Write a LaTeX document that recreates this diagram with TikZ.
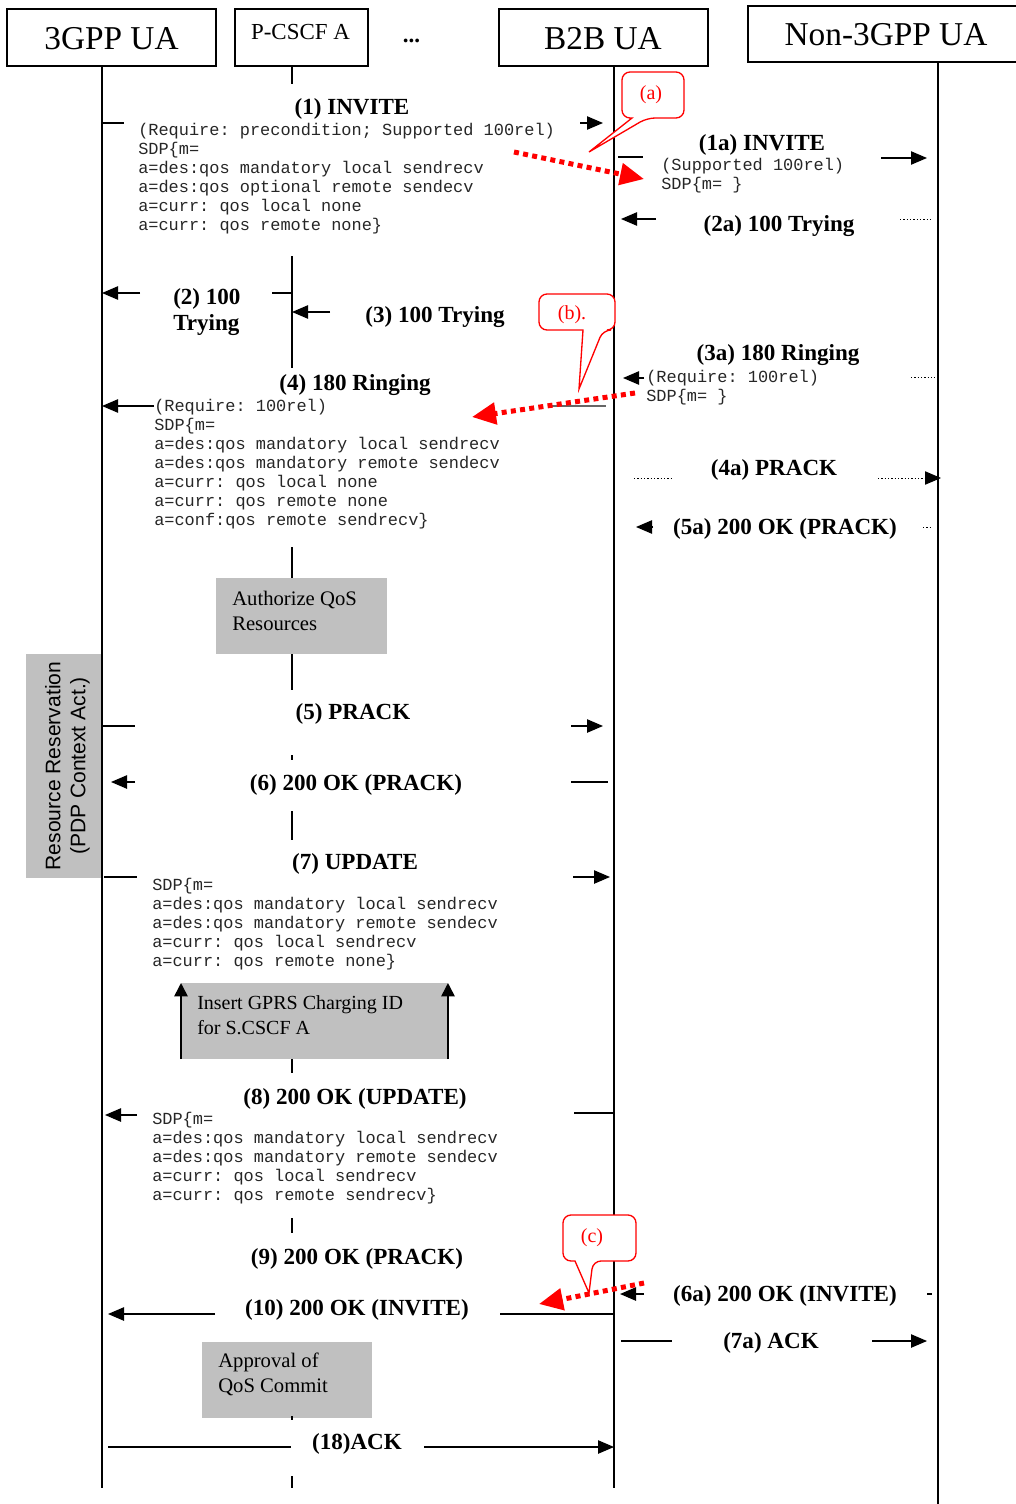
\documentclass[tikz,border=0pt]{standalone}
\usepackage{fontspec}
\setmainfont{Liberation Serif}
\setmonofont{Liberation Mono}
\newfontfamily\arialf{Liberation Sans}
\usetikzlibrary{arrows.meta}
\definecolor{boxgray}{RGB}{192,192,192}
\begin{document}
\begin{tikzpicture}[x=0.75pt,y=-0.75pt,
  life/.style={line width=1.5pt},
  thinlife/.style={line width=1.1pt},
  msg/.style={line width=1pt},
  tip/.style={-{Triangle[length=12pt,width=10pt]}},
  smalltip/.style={-{Triangle[length=10pt,width=10pt]}},
  dmsg/.style={line width=0.7pt, dash pattern=on 1pt off 1.5pt},
  redarr/.style={red, line width=3.75pt, dash pattern=on 3.75pt off 3.2pt, -{Triangle[length=18pt,width=16pt]}},
  callout/.style={red, line width=1pt, fill=white},
  hdr/.style={draw, line width=1.5pt, inner sep=0},
  hdrtxt/.style={font=\fontsize{25}{30}\selectfont, inner sep=0},
  lbl/.style={font=\fontsize{17.3}{19.5}\bfseries\selectfont, inner sep=0, yshift=-1.8pt},
  mono/.style={font=\fontsize{12.7}{14.25}\ttfamily\selectfont, inner sep=0, anchor=north west, align=left, text=black!85},
  boxtxt/.style={font=\fontsize{15.5}{18.75}\selectfont, inner sep=0, anchor=west, align=left},
  ctxt/.style={red, font=\fontsize{15}{18}\selectfont, inner sep=0},
  gbox/.style={fill=boxgray}
]
\useasboundingbox (0,0) rectangle (1016,1504);

% ---------- headers ----------
\node[hdr, minimum width=156.75pt, minimum height=42.75pt] (h1) at (111.5,37.5) {};
\node[hdrtxt] (h1t) at (111.5,39) {3GPP UA};
\node[hdr, minimum width=99.75pt, minimum height=42.75pt] (h2) at (301.5,37.5) {};
\node[font=\fontsize{17.2}{20}\selectfont, inner sep=0] (h2t) at (300.5,32) {P-CSCF A};
\node[font=\fontsize{17.3}{20}\bfseries\selectfont, inner sep=0, anchor=base] (dots) at (411.5,42) {...};
\node[hdr, minimum width=156.75pt, minimum height=42.75pt] (h3) at (603.5,37.5) {};
\node[hdrtxt] (h3t) at (603,39) {B2B UA};
\draw[line width=1.5pt] (748,6) rectangle (1030,62);
\node[hdrtxt] (h4t) at (886,35) {Non-3GPP UA};

% ---------- gray boxes ----------
\fill[gbox] (216,578) rectangle (387,654);
\fill[gbox] (26,654) rectangle (102,878);
\fill[gbox] (181,983) rectangle (448,1059);
\fill[gbox] (202,1342) rectangle (372,1418);

% ---------- lifelines ----------
\draw[life] (102,66) -- (102,1488);
\draw[life] (614,66) -- (614,1488);
\draw[life] (938,62) -- (938,1504);
\foreach \a/\b in {66/84, 256/368, 547/578, 654/690, 755/760, 811/840, 1059/1073, 1218/1233, 1416/1420, 1476/1488}
  \draw[thinlife] (292,\a) -- (292,\b);

% ---------- box texts ----------
\node[boxtxt] (auth) at (232,610.5) {Authorize QoS\\Resources};
\node[font=\arialf\fontsize{15.8}{18.75}\selectfont, rotate=90, align=center, inner sep=0] (rr) at (67.5,766) {Resource Reservation\\(PDP Context Act.)};
\draw[line width=1.2pt, smalltip] (181,1059) -- (181,983);
\draw[line width=1.2pt, smalltip] (448,1059) -- (448,983);
\node[boxtxt, font=\fontsize{15}{18.75}\selectfont] (gprs) at (197,1015) {Insert GPRS Charging ID\\for S.CSCF A};
\node[boxtxt] (appr) at (218,1374) {Approval of\\QoS Commit};

% ---------- messages ----------
% (1)
\draw[msg] (102,123) -- (124,123);
\draw[msg,tip] (580,123) -- (603,123);
\node[lbl] (t1) at (352,107) {(1) INVITE};
\node[mono] (m1) at (138,122.5) {\rule{0pt}{9.5pt}(Require: precondition; Supported 100rel)\\SDP\{m=\\a=des:qos mandatory local sendrecv\\a=des:qos optional remote sendecv\\a=curr: qos local none\\a=curr: qos remote none\}};
% (1a)
\draw[msg] (618,157) -- (643,157);
\draw[msg,tip] (881,158) -- (927,158);
\node[lbl] (t1a) at (762,143) {(1a) INVITE};
\node[mono] (m1a) at (661,158) {\rule{0pt}{9.5pt}(Supported 100rel)\\SDP\{m= \}};
% (2a)
\draw[msg,tip] (656,219) -- (621,219);
\draw[dmsg] (900,219) -- (932,219);
\node[lbl] (t2a) at (779,224) {(2a) 100 Trying};
% (2)
\draw[msg,tip] (140,293) -- (102,293);
\draw[msg] (272,293) -- (292,293);
\node[lbl, anchor=west, align=left] (t2) at (173,310) {(2) 100\\Trying};
% (3)
\draw[msg,tip] (330,312) -- (292,312);
\node[lbl] (t3) at (435,315) {(3) 100 Trying};
% (3a)
\draw[msg,tip] (644,378) -- (623,378);
\draw[dmsg] (911,377) -- (935,377);
\node[lbl] (t3a) at (778,353) {(3a) 180 Ringing};
\node[mono] (m3a) at (646,370) {\rule{0pt}{9.5pt}(Require: 100rel)\\SDP\{m= \}};
% (4)
\draw[msg,tip] (154,406) -- (102,406);
\draw[msg, black!60] (552,406) -- (606,406);
\node[lbl] (t4) at (355,383) {(4) 180 Ringing};
\node[mono] (m4) at (154,399) {\rule{0pt}{9.5pt}(Require: 100rel)\\SDP\{m=\\a=des:qos mandatory local sendrecv\\a=des:qos mandatory remote sendecv\\a=curr: qos local none\\a=curr: qos remote none\\a=conf:qos remote sendrecv\}};
% (4a)
\draw[dmsg] (634,478) -- (671,478);
\draw[dmsg, tip] (878,478) -- (941,478);
\node[lbl] (t4a) at (774,468) {(4a) PRACK};
% (5a)
\draw[msg,tip] (653,527) -- (636,527);
\draw[dmsg] (923,527) -- (933,527);
\node[lbl] (t5a) at (785,527) {(5a) 200 OK (PRACK)};
% (5)
\draw[msg] (102,726) -- (135,726);
\draw[msg,tip] (571,726) -- (603,726);
\node[lbl] (t5) at (353,712) {(5) PRACK};
% (6)
\draw[msg,tip] (135,782) -- (111,782);
\draw[msg] (571,782) -- (608,782);
\node[lbl] (t6) at (356,783) {(6) 200 OK (PRACK)};
% (7)
\draw[msg] (104,877) -- (137,877);
\draw[msg,tip] (573,877) -- (610,877);
\node[lbl] (t7) at (355,862) {(7) UPDATE};
\node[mono] (m7) at (152,878) {\rule{0pt}{9.5pt}SDP\{m=\\a=des:qos mandatory local sendrecv\\a=des:qos mandatory remote sendecv\\a=curr: qos local sendrecv\\a=curr: qos remote none\}};
% (8)
\draw[msg,tip] (137,1115) -- (105,1115);
\draw[msg] (574,1113) -- (614,1113);
\node[lbl] (t8) at (355,1097) {(8) 200 OK (UPDATE)};
\node[mono] (m8) at (152,1112) {\rule{0pt}{9.5pt}SDP\{m=\\a=des:qos mandatory local sendrecv\\a=des:qos mandatory remote sendecv\\a=curr: qos local sendrecv\\a=curr: qos remote sendrecv\}};
% (9)
\node[lbl] (t9) at (357,1257) {(9) 200 OK (PRACK)};
% (6a)
\draw[msg,tip] (644,1294) -- (620,1294);
\draw[msg] (927,1294) -- (932,1294);
\node[lbl] (t6a) at (785,1294) {(6a) 200 OK (INVITE)};
% (10)
\draw[msg,tip] (215,1314) -- (108,1314);
\draw[msg] (500,1314) -- (614,1314);
\node[lbl] (t10) at (357,1308) {(10) 200 OK (INVITE)};
% (7a)
\draw[msg] (621,1341) -- (672,1341);
\draw[msg,tip] (872,1341) -- (927,1341);
\node[lbl] (t7a) at (771,1341) {(7a) ACK};
% (18)
\draw[msg] (108,1447) -- (291,1447);
\draw[msg,tip] (424,1447) -- (614,1447);
\node[lbl] (t18) at (357,1442) {(18)ACK};

% ---------- callouts ----------
\draw[callout] (653,72) [rounded corners=6pt] -- (684,72) -- (684,118) -- (647,118) [sharp corners] -- (589,152) -- (632,118) [rounded corners=6pt] -- (622,118) -- (622,72) -- cycle;
\node[ctxt] (ca) at (651,95) {(a)};
\draw[callout] (577,294) [rounded corners=6pt] -- (615,294) -- (615,330) -- (603,330) [sharp corners] -- (579,389) -- (583,330) [rounded corners=6pt] -- (539,330) -- (539,294) -- cycle;
\node[ctxt] (cb) at (572,315) {(b).};
\draw[callout] (600,1215) [rounded corners=6pt] -- (636,1215) -- (636,1261) -- (593,1261) [sharp corners] -- (589,1293) -- (575,1261) [rounded corners=6pt] -- (563,1261) -- (563,1215) -- cycle;
\node[ctxt] (cc) at (592,1238) {(c)};

% ---------- red dotted arrows ----------
\draw[redarr] (514,152) -- (644,179);
\draw[redarr] (635,393) -- (472,417);
\draw[redarr] (644,1283) -- (539,1304);
\end{tikzpicture}
\end{document}
